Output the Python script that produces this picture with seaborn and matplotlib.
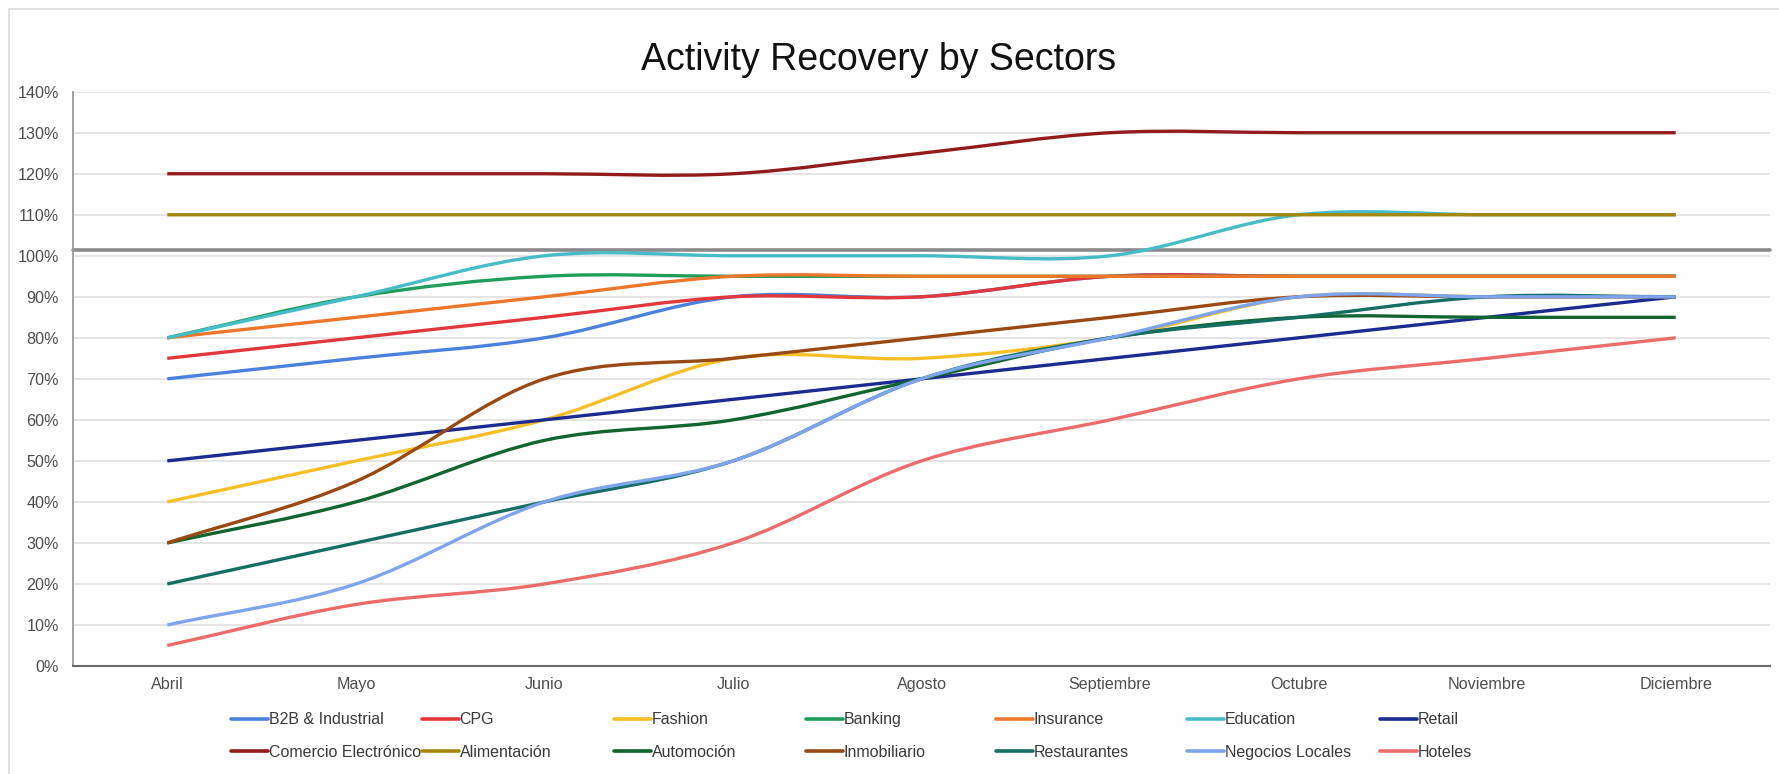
import matplotlib
matplotlib.use("Agg")
import matplotlib.pyplot as plt
from matplotlib.path import Path
from matplotlib.patches import PathPatch, Rectangle
from matplotlib.lines import Line2D
import seaborn as sns

# ---- data -------------------------------------------------------------
months = ["Abril", "Mayo", "Junio", "Julio", "Agosto", "Septiembre",
          "Octubre", "Noviembre", "Diciembre"]

sectors = ["B2B & Industrial", "CPG", "Fashion", "Banking", "Insurance",
           "Education", "Retail", "Comercio Electrónico", "Alimentación",
           "Automoción", "Inmobiliario", "Restaurantes", "Negocios Locales",
           "Hoteles"]

b2b_industrial = [70, 75, 80, 90, 90, 95, 95, 95, 95]
cpg = [75, 80, 85, 90, 90, 95, 95, 95, 95]
fashion = [40, 50, 60, 75, 75, 80, 90, 90, 90]
banking = [80, 90, 95, 95, 95, 95, 95, 95, 95]
insurance = [80, 85, 90, 95, 95, 95, 95, 95, 95]
education = [80, 90, 100, 100, 100, 100, 110, 110, 110]
retail = [50, 55, 60, 65, 70, 75, 80, 85, 90]
comercio_electronico = [120, 120, 120, 120, 125, 130, 130, 130, 130]
alimentacion = [110, 110, 110, 110, 110, 110, 110, 110, 110]
automocion = [30, 40, 55, 60, 70, 80, 85, 85, 85]
inmobiliario = [30, 45, 70, 75, 80, 85, 90, 90, 90]
restaurantes = [20, 30, 40, 50, 70, 80, 85, 90, 90]
negocios_locales = [10, 20, 40, 50, 70, 80, 90, 90, 90]
hoteles = [5, 15, 20, 30, 50, 60, 70, 75, 80]

series = [b2b_industrial, cpg, fashion, banking, insurance, education, retail,
          comercio_electronico, alimentacion, automocion, inmobiliario,
          restaurantes, negocios_locales, hoteles]

colors = ["#4a80de", "#e2373b", "#f6bf26", "#1f9e5b", "#ec772a", "#46bdc6",
          "#1c2b91", "#931b1b", "#a3870f", "#11652f", "#9a4912", "#146e61",
          "#7ea4ee", "#ec6b6b"]

yticks = list(range(0, 141, 10))
reference_level = 101.3

# ---- style -----------------------------------------------------------
sns.set_theme(style="whitegrid")
plt.rcParams["font.family"] = ["Liberation Sans", "DejaVu Sans"]

fig = plt.figure(figsize=(17.79, 7.74), dpi=100)
fig.patch.set_facecolor("white")

# card outline
fig.add_artist(Rectangle((9 / 1779, -0.02), 1.2, 1 - 9 / 774 + 0.02,
                         transform=fig.transFigure, facecolor="none",
                         edgecolor="#dadada", lw=1.2, zorder=0))

ax = fig.add_axes([73 / 1779, 1 - 666 / 774, (1770 - 73) / 1779, (666 - 91.7) / 774])
ax.set_facecolor("white")


def smooth_path(xs, ys):
    """Cubic Bezier path through the points (Catmull-Rom tangents)."""
    n = len(xs)
    tang = []
    for i in range(n):
        if i == 0:
            tang.append(ys[1] - ys[0])
        elif i == n - 1:
            tang.append(ys[-1] - ys[-2])
        else:
            tang.append((ys[i + 1] - ys[i - 1]) / 2)
    verts = [(xs[0], ys[0])]
    codes = [Path.MOVETO]
    for i in range(n - 1):
        verts += [(xs[i] + 1 / 3, ys[i] + tang[i] / 3),
                  (xs[i + 1] - 1 / 3, ys[i + 1] - tang[i + 1] / 3),
                  (xs[i + 1], ys[i + 1])]
        codes += [Path.CURVE4] * 3
    return Path(verts, codes)


xpos = list(range(len(months)))
for vals, col in zip(series, colors):
    ax.add_patch(PathPatch(smooth_path(xpos, vals), facecolor="none",
                           edgecolor=col, lw=2.4, capstyle="butt",
                           joinstyle="round", zorder=3))

ax.axhline(reference_level, color="#8a8a8a", lw=2.6, zorder=2, clip_on=False)

ax.set_xlim(-0.5, len(months) - 0.5)
ax.set_ylim(0, 140)
ax.set_xticks(xpos)
ax.set_xticklabels(months)
ax.set_yticks(yticks)
ax.set_yticklabels([f"{v}%" for v in yticks])
ax.tick_params(axis="both", length=0, labelsize=11.6, labelcolor="#4d4d4d")
ax.tick_params(axis="y", pad=10)
ax.tick_params(axis="x", pad=8)

ax.grid(axis="x", visible=False)
ax.grid(axis="y", color="#dedede", lw=1.1)
for side in ("top", "right"):
    ax.spines[side].set_visible(False)
ax.spines["left"].set_color("#9a9a9a")
ax.spines["left"].set_linewidth(1.3)
ax.spines["bottom"].set_color("#6a6a6a")
ax.spines["bottom"].set_linewidth(1.5)

fig.text(879 / 1779, 1 - 60 / 774, "Activity Recovery by Sectors",
         ha="center", va="center", fontsize=27, color="#111111")

# ---- legend: seven columns, two rows -----------------------------------
col_px = [231, 422, 614, 806, 996, 1187, 1380]
handles = [Line2D([], [], color=c, lw=2.6) for c in colors]
for k, xp in enumerate(col_px):
    idx = [k, k + 7]
    leg = fig.legend([handles[i] for i in idx], [sectors[i] for i in idx],
                     loc="center left", bbox_to_anchor=(xp / 1779, 1 - 736 / 774),
                     bbox_transform=fig.transFigure, frameon=False,
                     borderpad=0, borderaxespad=0, handlelength=2.3,
                     handletextpad=0.05, labelspacing=1.08, fontsize=11.5)
    for t in leg.get_texts():
        t.set_color("#3a3a3a")

fig.savefig("out.png", dpi=100, facecolor="white")
